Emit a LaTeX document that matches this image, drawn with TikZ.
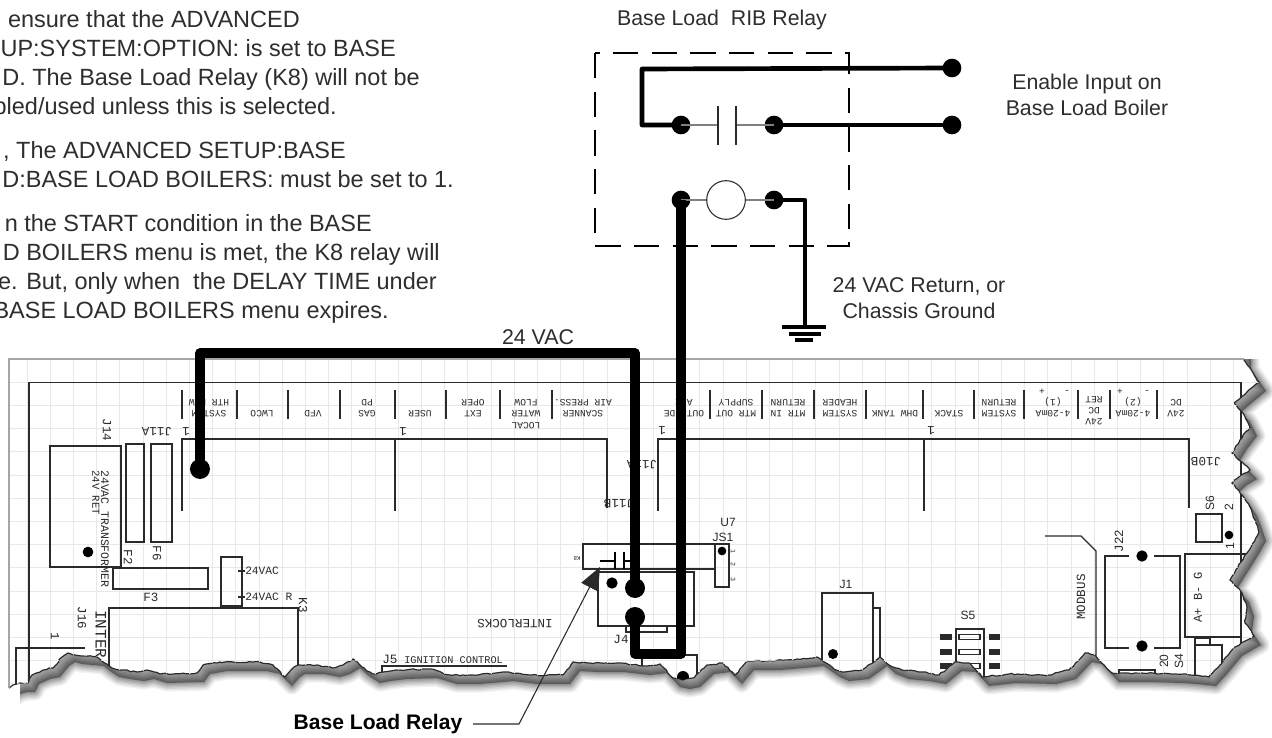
\documentclass[tikz,border=0pt]{standalone}
\usepackage{fontspec}
\setmainfont{Liberation Sans}
\newfontfamily\pcbfont{Liberation Mono}
\usetikzlibrary{arrows.meta,decorations.pathmorphing}
\definecolor{ink}{HTML}{2A2A2A}
\definecolor{txt}{HTML}{2E2E2E}
\definecolor{gridc}{HTML}{E8E8E8}
\def\tornpath{(-30,-30) -- (1244,-30) -- (1244,360) -- (1259,382) -- (1247,392) -- (1234,403) -- (1243,413) -- (1250,427) -- (1240,440) -- (1232,453) -- (1242,462) -- (1250,470) -- (1240,476) -- (1232,483) -- (1242,495) -- (1250,507) -- (1255,520) -- (1259,532) -- (1253,543) -- (1247,553) -- (1238,567) -- (1230,580) -- (1242,593) -- (1247,607) -- (1245,623) -- (1254,636) -- (1235,647) -- (1220,665) -- (1209,677) -- (1190,675) -- (1175,674) -- (1142,673) -- (1112,673) -- (1095,655) -- (1085,653) -- (1069,670) -- (1049,675) -- (1009,674) -- (982,677) -- (969,663) -- (955,662) -- (939,675) -- (922,672) -- (902,670) -- (889,665) -- (880,657) -- (862,670) -- (842,672) -- (833,668) -- (817,657) -- (797,659) -- (773,661) -- (747,661) -- (735,675) -- (723,663) -- (707,665) -- (693,678) -- (683,680) -- (673,678) -- (660,664) -- (643,666) -- (617,663) -- (590,663) -- (573,662) -- (563,675) -- (530,675) -- (507,672) -- (473,675) -- (450,675) -- (430,669) -- (400,670) -- (383,672) -- (373,674) -- (362,667) -- (353,659) -- (343,665) -- (333,668) -- (317,665) -- (298,665) -- (293,668) -- (285,677) -- (273,665) -- (260,662) -- (220,662) -- (203,665) -- (197,673) -- (160,674) -- (147,670) -- (137,672) -- (123,670) -- (112,668) -- (103,662) -- (97,657) -- (75,655) -- (68,653) -- (62,657) -- (53,668) -- (43,670) -- (32,675) -- (28,683) -- (20,683) -- (13,685) -- (9,688) -- (-30,688) -- cycle}
\tikzset{
  x=0.75pt,y=-0.75pt,
  roughedge/.style={decorate,decoration={random steps,segment length=2.6pt,amplitude=0.55pt}},
  pcb/.style={draw=ink,line width=1pt},
  gridline/.style={draw=gridc,line width=0.6pt},
  heavy/.style={draw=black,line width=6.9pt,line join=round},
  wirebk/.style={draw=black,line width=3.5pt,line join=round},
  thingray/.style={draw=gray,line width=0.9pt},
  bigdot/.style={circle,fill=black,inner sep=0pt,minimum size=15pt},
  reldot/.style={circle,fill=black,inner sep=0pt,minimum size=14pt},
  smdot/.style={circle,fill=black,inner sep=0pt,minimum size=#1},
  tlabel/.style={text=txt,inner sep=0pt,font=\fontsize{16}{19}\selectfont},
  para/.style={text=txt,inner sep=0pt,anchor=base east,font=\fontsize{17.6}{20}\selectfont},
  mono/.style={text=ink,inner sep=0pt,align=center,font=\pcbfont\fontsize{7.2}{8.4}\selectfont},
  monor/.style={mono,rotate=180},
  bigmono/.style={text=ink,inner sep=0pt,align=center,font=\pcbfont\fontsize{9.4}{10}\selectfont},
  silk/.style={text=ink,inner sep=0pt,font=\fontsize{9}{10}\selectfont},
}
\begin{document}
\begin{tikzpicture}
\useasboundingbox (0,0) rectangle (1272,738);
\clip (0,0) rectangle (1272,738);
% shadow
\begin{scope}
\clip (20,340) rectangle (1272,738);
\begin{scope}[shift={(7,9)}]
  \foreach \w/\o in {13/0.05,11/0.06,9/0.07,7/0.08,5/0.09,3/0.1,1/0.1}{
    \draw[black,opacity=\o,line width=\w pt,line join=round] \tornpath;
  }
  \fill[black,opacity=0.38] \tornpath;
\end{scope}
\end{scope}
% paper
\pgfmathsetseed{42}
\path[roughedge,fill=white,draw=ink,line width=0.9pt] \tornpath;
\fill[white] (0,0) rectangle (1272,358.5);
\fill[white] (0,0) rectangle (8.5,695);
\begin{scope}
\pgfmathsetseed{42}
\clip[roughedge] \tornpath;
% grid
\foreach \k in {0,...,52}{ \draw[gridline] ({27+23.2*\k},359) -- ({27+23.2*\k},695); }
\foreach \k in {1,...,14}{ \draw[gridline] (9,{359+23.2*\k}) -- (1265,{359+23.2*\k}); }
\draw[draw=gray!70,line width=0.9pt] (9,690) -- (9,359) -- (1265,359);
% frame
\draw[pcb,line width=1.2pt] (29,690) -- (29,382.5) -- (1241,382.5) -- (1241,690);
% terminal ticks
\foreach \x in {182,237,288,340,395,446,500,552,710,762,814,866,923,974,1024,1078,1110,1157}{
  \draw[pcb] (\x,390) -- (\x,419);
}
% terminal labels
\node[monor] (t1) at (209,408) {SYSTEM\\HTR HOW};
\node[monor] (t2) at (262,414) {LWCO};
\node[monor] (t3) at (313,414) {VFD};
\node[monor] (t4) at (367,408) {GAS\\PD};
\node[monor] (t5) at (420,414) {USER};
\node[monor] (t6) at (473,408) {EXT\\OPER};
\node[monor] (t7) at (526,414) {LOCAL\\WATER\\FLOW};
\node[monor] (t8) at (583,408) {SCANNER\\AIR PRESS.};
\node[monor] (t9) at (684,408) {OUTSIDE\\AIR};
\node[monor] (t10) at (736,408) {MTR OUT\\SUPPLY};
\node[monor] (t11) at (788,408) {MTR IN\\RETURN};
\node[monor] (t12) at (840,408) {SYSTEM\\HEADER};
\node[monor] (t13) at (895,414) {DHW TANK};
\node[monor] (t14) at (949,414) {STACK};
\node[monor] (t15) at (999,408) {SYSTEM\\RETURN};
\node[monor] (t16) at (1053,414) {4-20mA};
\node[monor] (t17) at (1053,402) {(1)};
\node[mono] (t18) at (1042,392) {+};
\node[mono] (t19) at (1067,392) {-};
\node[monor] (t20) at (1094,411) {24V\\DC\\RET};
\node[monor] (t21) at (1133,414) {4-20mA};
\node[monor] (t22) at (1133,402) {(2)};
\node[mono] (t23) at (1120,392) {+};
\node[mono] (t24) at (1147,392) {-};
\node[monor] (t25) at (1176,408) {24V\\DC};
% header lines
\draw[pcb] (182,511) -- (182,439) -- (607,439) -- (607,508);
\draw[pcb] (395,439) -- (395,511);
\draw[pcb] (658,511) -- (658,439) -- (1189,439) -- (1189,508);
\draw[pcb,line width=2pt] (924,439) -- (924,511);
\node[bigmono,rotate=180] (n1a) at (186,432) {1};
\node[bigmono,rotate=180] (n1b) at (403,432) {1};
\node[bigmono,rotate=180] (n1c) at (662,431) {1};
\node[bigmono,rotate=180] (n1d) at (931,431) {1};
\node[bigmono,rotate=180] (j11a) at (157,432) {J11A};
\node[bigmono,rotate=180] (j11b) at (619,504) {J11B};
\node[bigmono,rotate=180] (j11c) at (642,465) {J11A};
\node[bigmono,rotate=180] (j10b) at (1206,462) {J10B};
% J14 area
\node[bigmono,rotate=-90] (j14) at (107,430) {J14};
\draw[pcb] (50,446) rectangle (121,567);
\node[mono,rotate=-90,anchor=west,font=\pcbfont\fontsize{8.6}{10}\selectfont] (xf) at (105,470) {24VAC TRANSFORMER};
\node[mono,rotate=-90,anchor=west,font=\pcbfont\fontsize{8}{10}\selectfont] (xr) at (96,470) {24V RET};
\node[smdot=8pt] (d14) at (88,552) {};
\draw[pcb] (126,444) rectangle (144,542);
\draw[pcb] (151,444) rectangle (172,542);
\node[bigmono,rotate=-90] (f2) at (128,557) {F2};
\node[bigmono,rotate=-90] (f6) at (157,553) {F6};
\draw[pcb] (113,568) rectangle (208,589);
\node[bigmono] (f3) at (151,597) {F3};
\draw[pcb] (221,557) rectangle (242,606);
\draw[pcb] (238,571) -- (245,571);
\draw[pcb] (238,597) -- (245,597);
\node[bigmono,anchor=west,font=\pcbfont\fontsize{8.4}{10}\selectfont] (v1) at (245,571) {24VAC};
\node[bigmono,anchor=west,font=\pcbfont\fontsize{8.4}{10}\selectfont] (v2) at (245,597) {24VAC R};
\node[bigmono,rotate=-90] (k3) at (303,605) {K3};
\draw[pcb] (109,680) -- (109,608) -- (298,608) -- (298,680);
\node[bigmono,rotate=-90] (j16) at (82,618) {J16};
\node[bigmono,rotate=-90] (one1) at (55,636) {1};
\draw[pcb] (16,690) -- (16,648) -- (85,648);
\node[bigmono,rotate=-90,anchor=west,font=\pcbfont\fontsize{12}{12}\selectfont] (inter) at (101,610) {INTER};
\node[silk,anchor=west,font=\pcbfont\fontsize{9.5}{10}\selectfont] (j5) at (382,659) {J5};
\node[mono,anchor=west,font=\pcbfont\fontsize{7.7}{10}\selectfont] (ign) at (404,660) {IGNITION CONTROL};
\draw[pcb] (382,680) -- (382,666) -- (507,666);
% relay
\draw[pcb] (583,544) rectangle (715,569);
\node[mono,rotate=180,font=\pcbfont\fontsize{4.5}{5}\selectfont] (k8) at (577,558) {K8};
\draw[draw=black,line width=1.4pt] (600,561) -- (615,561) (615,552) -- (615,569) (624,552) -- (624,569) (624,561) -- (632,561);
\draw[pcb] (598,569) -- (598,626) -- (694,626) -- (694,572) -- (598,572);
\node[smdot=8.5pt] (d4) at (612,583) {};
\draw[pcb] (626,626) -- (626,632) -- (667,632) -- (667,626);
\node[bigmono] (j4) at (621,639) {J4};
\draw[pcb] (642,675) -- (642,655) -- (697,655) -- (697,680);
\node[smdot=9pt] (d5) at (683,677) {};
\node[bigmono] (intl) [rotate=180] at (515,624) {INTERLOCKS};
\node[silk] (u7) at (728,522) {U7};
\node[silk] (js1) at (723,537) {JS1};
\draw[pcb] (715,544) rectangle (729,587);
\node[smdot=6.5pt] (d6) at (722,551) {};
\node[mono,rotate=-90,font=\pcbfont\fontsize{5}{5}\selectfont] (p1) at (733,551) {1};
\node[mono,rotate=-90,font=\pcbfont\fontsize{5}{5}\selectfont] (p2) at (733,564) {2};
\node[mono,rotate=-90,font=\pcbfont\fontsize{5}{5}\selectfont] (p3) at (733,579) {3};
% J1
\node[silk] (j1) at (846,584) {J1};
\draw[pcb] (822,690) -- (822,593) -- (873,593) -- (873,690);
\draw[pcb] (873,608) -- (880,608) -- (880,670);
\node[smdot=7.5pt] (d7) at (833,654) {};
% S5
\node[silk] (s5) at (968,615) {S5};
\draw[pcb] (956,680) -- (956,629) -- (984,629) -- (984,680);
\foreach \y in {637,652,666}{
  \draw[pcb,line width=0.8pt] (959,\y-2.5) rectangle (980,\y+2.5);
  \fill[ink] (989,\y-3) rectangle (1000,\y+3);
  \fill[ink] (940,\y-3) rectangle (952,\y+3);
}
% MODBUS + J22
\node[bigmono,rotate=90] (mb) at (1081,597) {MODBUS};
\draw[pcb] (1045,536) -- (1081,536) -- (1096,551) -- (1096,680);
\node[bigmono,rotate=90] (j22) at (1119,541) {J22};
\draw[pcb] (1129,556) -- (1105,556) -- (1105,648) -- (1129,648);
\draw[pcb] (1154,556) -- (1180,556) -- (1180,648) -- (1154,648);
\node[smdot=8.5pt] (d8) at (1142,556) {};
\node[smdot=8.5pt] (d9) at (1142,646) {};
\draw[pcb] (1252,554) -- (1185,554) -- (1185,637) -- (1241,637);
\node[bigmono,rotate=90,font=\pcbfont\fontsize{9}{10}\selectfont] (ab) at (1198,597) {A+ B- G};
\node[silk,rotate=90] (s6) at (1210,503) {S6};
\node[silk,rotate=90] (two) at (1229,507) {2};
\draw[pcb] (1196,514) rectangle (1222,542);
\node[smdot=6.5pt] (d10) at (1229,535) {};
\node[silk,rotate=90] (one2) at (1230,546) {1};
\node[silk,rotate=90] (s4) at (1179,661) {S4};
\node[silk,rotate=90] (s20) at (1164,661) {20};
\draw[pcb] (1195,680) -- (1195,645) -- (1222,645) -- (1222,680);
\draw[pcb] (1195,645) -- (1195,638) -- (1210,638) -- (1210,645);
\draw[pcb] (1119,680) -- (1119,670) -- (1155,670) -- (1155,680);
\end{scope}
% left text
\node[para] (p01) at (300,28) {ensure that the ADVANCED};
\node[para] (p02) at (396,57) {UP:SYSTEM:OPTION: is set to BASE};
\node[para] (p03) at (420,86) {D. The Base Load Relay (K8) will not be};
\node[para] (p04) at (337,115) {bled/used unless this is selected.};
\node[para] (p05) at (346,159) {, The ADVANCED SETUP:BASE};
\node[para] (p06) at (454,188) {D:BASE LOAD BOILERS: must be set to 1.};
\node[para] (p07) at (372,232) {n the START condition in the BASE};
\node[para] (p08) at (440,261) {D BOILERS menu is met, the K8 relay will};
\node[para] (p09) at (437,290) {e. But, only when\ \ the DELAY TIME under};
\node[para] (p10) at (389,319) {BASE LOAD BOILERS menu expires.};
% RIB relay
\node[tlabel] (ttl) at (722,20) {Base Load\ \ RIB Relay};
\node[tlabel,align=center,font=\fontsize{16}{19.4}\selectfont] (en) at (1087,95) {Enable Input on\\Base Load Boiler};
\node[tlabel,align=center,font=\fontsize{16}{19.4}\selectfont] (ret) at (919,298) {24 VAC Return, or\\Chassis Ground};
\node[tlabel] (vac) at (538,337) {24 VAC};
\draw[black,line width=1.8pt,dash pattern=on 19pt off 10pt] (595,53) rectangle (849,246);
\node[reldot] (a1) at (952,68) {};
\node[reldot] (a2) at (952,125) {};
\node[reldot] (b1) at (681,125) {};
\node[reldot] (b2) at (774,125) {};
\node[reldot] (c1) at (681,200) {};
\node[reldot] (c2) at (774,200) {};
\node[circle,draw=ink,fill=white,line width=0.8pt,inner sep=0pt,minimum size=29pt] (coil) at (726,200) {};
\coordinate (ul) at (642,69);
\coordinate (ll) at (642,125);
\coordinate (gt) at (805,200);
\coordinate (gb) at (805,327);
\coordinate (barA) at (718,125);
\coordinate (barB) at (736,125);
\draw[wirebk] (a1.center) -- (ul) -- (ll) -- (b1.center);
\draw[wirebk] (b2.center) -- (a2.center);
\draw[thingray] (b1.center) -- (barA);
\draw[thingray] (b2.center) -- (barB);
\draw[ink,line width=1pt] (718,106) -- (718,145) (736,106) -- (736,145);
\draw[thingray] (c1.center) -- (coil.west);
\draw[thingray] (c2.center) -- (coil.east);
\draw[wirebk] (c2.center) -- (gt) -- (gb);
\draw[black,line width=3pt] (782,327) -- (826,327);
\draw[black,line width=2.6pt] (789,334) -- (821,334);
\draw[black,line width=2.6pt] (795,340) -- (813,340);
% heavy wires
\node[bigdot] (w1) at (200,469) {};
\node[bigdot] (w2) at (635,588) {};
\node[bigdot] (w3) at (635,617) {};
\coordinate (w1a) at (200,353);
\coordinate (w1b) at (635,353);
\coordinate (w3a) at (635,654);
\coordinate (w3b) at (681,654);
\draw[heavy] (w1.center) -- (w1a) -- (w1b) -- (w2.center);
\draw[heavy] (w3.center) -- (w3a) -- (w3b) -- (c1.center);
% base load relay
\node[text=black,inner sep=0pt,font=\bfseries\fontsize{15.8}{18}\selectfont] (brl) at (378,724) {Base Load Relay};
\coordinate (el) at (519,724);
\coordinate (tip) at (600,567);
\draw[ink,line width=0.8pt,shorten <=8pt,-{Triangle[length=17pt,width=14pt]}] (brl.east) -- (el) -- (tip);
\end{tikzpicture}
\end{document}
